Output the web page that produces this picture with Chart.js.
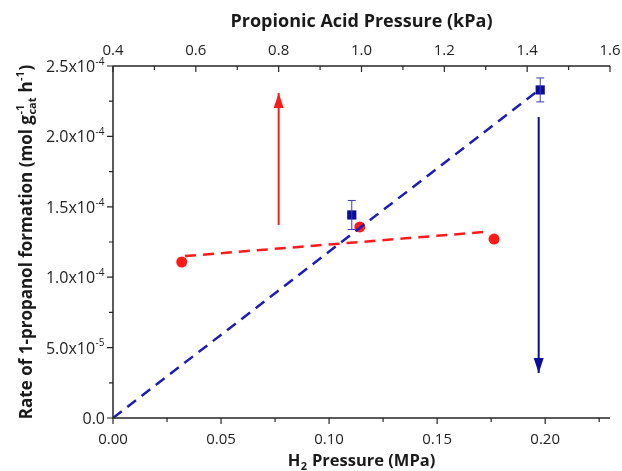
<!DOCTYPE html>
<html>
<head>
<meta charset="utf-8">
<script src="https://cdn.jsdelivr.net/npm/chart.js"></script>
<style>
html, body { margin: 0; padding: 0; background: #fff; }
</style>
</head>
<body>
<canvas id="myChart" width="622" height="471"></canvas>
<script>
// H2 series (bottom axis, MPa)
const h2Pressure = [0.1105, 0.1977];
const rateH2 = [1.442e-4, 2.33e-4];
const rateH2Err = [1.03e-5, 0.85e-5];
const h2FitX = [0, 0.196];
const h2FitY = [0, 2.316e-4];

// propionic acid series (top axis, kPa)
const acidPressure = [0.566, 0.996, 1.32];
const rateAcid = [1.108e-4, 1.357e-4, 1.271e-4];
const acidFitX = [0.574, 1.296];
const acidFitY = [1.15e-4, 1.321e-4];

// arrows
const redArrowX = [0.8, 0.8];
const redArrowY = [1.371e-4, 2.308e-4];
const blueArrowX = [0.197, 0.197];
const blueArrowY = [2.138e-4, 0.32e-4];

// ticks
const xTicks = [0, 0.05, 0.10, 0.15, 0.20];
const xTickLabels = ['0.00', '0.05', '0.10', '0.15', '0.20'];
const xMinor = [0.025, 0.075, 0.125, 0.175, 0.225];
const x2Ticks = [0.4, 0.6, 0.8, 1.0, 1.2, 1.4, 1.6];
const x2TickLabels = ['0.4', '0.6', '0.8', '1.0', '1.2', '1.4', '1.6'];
const x2Minor = [0.5, 0.7, 0.9, 1.1, 1.3, 1.5];
const yTicks = [0, 5e-5, 1e-4, 1.5e-4, 2e-4, 2.5e-4];
const yTickBase = ['0.0', '5.0x10', '1.0x10', '1.5x10', '2.0x10', '2.5x10'];
const yTickExp = ['', '-5', '-4', '-4', '-4', '-4'];
const yMinor = [2.5e-5, 7.5e-5, 1.25e-4, 1.75e-4, 2.25e-4];

const FONT = "'Open Sans', sans-serif";
const AXIS = '#262626';
const BLUE = '#0c0c9a';
const RED = '#ff1a1a';

function pts(xs, ys) {
    return xs.map((x, i) => ({ x: x, y: ys[i] }));
}

// pieces: k 'n' normal, 'sup', 'sub', 'ss' stacked sup (t) over sub (s)
function richWidth(ctx, parts, size, bold) {
    let w = 0;
    parts.forEach(p => {
        if (p.k === 'n') {
            ctx.font = (bold ? 'bold ' : '') + size + 'px ' + FONT;
            w += ctx.measureText(p.t).width;
        } else {
            ctx.font = (bold ? 'bold ' : '') + Math.round(size * 0.65) + 'px ' + FONT;
            if (p.k === 'ss') {
                w += Math.max(ctx.measureText(p.t).width, ctx.measureText(p.s).width) + 1;
            } else {
                w += ctx.measureText(p.t).width + 1;
            }
        }
    });
    return w;
}

function richDraw(ctx, parts, x, y, size, bold) {
    ctx.textBaseline = 'alphabetic';
    ctx.textAlign = 'left';
    parts.forEach(p => {
        if (p.k === 'n') {
            ctx.font = (bold ? 'bold ' : '') + size + 'px ' + FONT;
            ctx.fillText(p.t, x, y);
            x += ctx.measureText(p.t).width;
        } else {
            ctx.font = (bold ? 'bold ' : '') + Math.round(size * 0.65) + 'px ' + FONT;
            if (p.k === 'sup') {
                ctx.fillText(p.t, x + 0.5, y - size * 0.45);
                x += ctx.measureText(p.t).width + 1;
            } else if (p.k === 'sub') {
                ctx.fillText(p.t, x + 0.5, y + size * 0.25);
                x += ctx.measureText(p.t).width + 1;
            } else {
                ctx.fillText(p.t, x + 0.5, y - size * 0.45);
                ctx.fillText(p.s, x + 0.5, y + size * 0.25);
                x += Math.max(ctx.measureText(p.t).width, ctx.measureText(p.s).width) + 1;
            }
        }
    });
}

const decor = {
    id: 'decor',
    afterDatasetsDraw(chart) {
        const ctx = chart.ctx;
        const a = chart.chartArea;
        const sx = chart.scales.x, sx2 = chart.scales.x2, sy = chart.scales.y;
        ctx.save();

        // error bars
        ctx.strokeStyle = '#3a3ab8';
        ctx.lineWidth = 1;
        h2Pressure.forEach((v, i) => {
            const px = sx.getPixelForValue(v);
            const t = sy.getPixelForValue(rateH2[i] + rateH2Err[i]);
            const b = sy.getPixelForValue(rateH2[i] - rateH2Err[i]);
            ctx.beginPath();
            ctx.moveTo(px, t); ctx.lineTo(px, b);
            ctx.moveTo(px - 4, t); ctx.lineTo(px + 4, t);
            ctx.moveTo(px - 4, b); ctx.lineTo(px + 4, b);
            ctx.stroke();
        });

        // arrow heads
        function head(px, py, dir, color) {
            ctx.fillStyle = color;
            ctx.beginPath();
            ctx.moveTo(px, py);
            ctx.lineTo(px - 5, py - dir * 15);
            ctx.lineTo(px + 5, py - dir * 15);
            ctx.closePath();
            ctx.fill();
        }
        head(sx2.getPixelForValue(redArrowX[1]), sy.getPixelForValue(redArrowY[1]), -1, RED);
        head(sx.getPixelForValue(blueArrowX[1]), sy.getPixelForValue(blueArrowY[1]), 1, BLUE);

        // axes lines
        ctx.strokeStyle = AXIS;
        ctx.lineWidth = 1.5;
        ctx.beginPath();
        ctx.moveTo(a.left, a.top); ctx.lineTo(a.left, a.bottom); ctx.lineTo(a.right, a.bottom);
        ctx.moveTo(a.left, a.top); ctx.lineTo(a.right, a.top);
        ctx.stroke();

        ctx.lineWidth = 1.2;
        ctx.beginPath();
        xTicks.forEach(v => { const p = sx.getPixelForValue(v); ctx.moveTo(p, a.bottom); ctx.lineTo(p, a.bottom + 6); });
        xMinor.forEach(v => { const p = sx.getPixelForValue(v); ctx.moveTo(p, a.bottom); ctx.lineTo(p, a.bottom + 4); });
        x2Ticks.forEach(v => { const p = sx2.getPixelForValue(v); ctx.moveTo(p, a.top); ctx.lineTo(p, a.top + 6); });
        x2Minor.forEach(v => { const p = sx2.getPixelForValue(v); ctx.moveTo(p, a.top); ctx.lineTo(p, a.top + 4); });
        yTicks.forEach(v => { const p = sy.getPixelForValue(v); ctx.moveTo(a.left, p); ctx.lineTo(a.left - 6, p); });
        yMinor.forEach(v => { const p = sy.getPixelForValue(v); ctx.moveTo(a.left, p); ctx.lineTo(a.left - 4, p); });
        ctx.stroke();

        // tick labels
        ctx.fillStyle = '#222';
        ctx.font = '15px ' + FONT;
        ctx.textAlign = 'center';
        ctx.textBaseline = 'alphabetic';
        xTicks.forEach((v, i) => ctx.fillText(xTickLabels[i], sx.getPixelForValue(v), a.bottom + 26));
        x2Ticks.forEach((v, i) => ctx.fillText(x2TickLabels[i], sx2.getPixelForValue(v), a.top - 11));

        yTicks.forEach((v, i) => {
            const parts = [{ t: yTickBase[i], k: 'n' }];
            if (yTickExp[i]) parts.push({ t: yTickExp[i], k: 'sup' });
            const w = richWidth(ctx, parts, 16, false);
            richDraw(ctx, parts, a.left - 8 - w, sy.getPixelForValue(v) + 6, 16, false);
        });

        // titles
        ctx.fillStyle = '#1a1a1a';
        ctx.font = 'bold 18px ' + FONT;
        ctx.textAlign = 'center';
        ctx.textBaseline = 'alphabetic';
        ctx.fillText('Propionic Acid Pressure (kPa)', (a.left + a.right) / 2, 27);

        const xt = [{ t: 'H', k: 'n' }, { t: '2', k: 'sub' }, { t: ' Pressure (MPa)', k: 'n' }];
        const xw = richWidth(ctx, xt, 16.5, true);
        richDraw(ctx, xt, (a.left + a.right) / 2 - xw / 2, 466, 16.5, true);

        const yt = [
            { t: 'Rate of 1-propanol formation (mol g', k: 'n' },
            { t: '-1', s: 'cat', k: 'ss' },
            { t: ' h', k: 'n' },
            { t: '-1', k: 'sup' },
            { t: ')', k: 'n' }
        ];
        const yw = richWidth(ctx, yt, 17, true);
        ctx.translate(32, (a.top + a.bottom) / 2);
        ctx.rotate(-Math.PI / 2);
        richDraw(ctx, yt, -yw / 2, 0, 17, true);

        ctx.restore();
    }
};

const ctx = document.getElementById('myChart').getContext('2d');
const myChart = new Chart(ctx, {
    type: 'scatter',
    data: {
        datasets: [
            {
                label: 'H2 fit',
                data: pts(h2FitX, h2FitY),
                xAxisID: 'x',
                showLine: true,
                borderColor: '#1c1cb8',
                borderWidth: 2.5,
                borderDash: [11, 7],
                pointRadius: 0
            },
            {
                label: 'acid fit',
                data: pts(acidFitX, acidFitY),
                xAxisID: 'x2',
                showLine: true,
                borderColor: RED,
                borderWidth: 2.5,
                borderDash: [11, 7],
                pointRadius: 0
            },
            {
                label: 'H2 pressure',
                data: pts(h2Pressure, rateH2),
                xAxisID: 'x',
                pointStyle: 'rect',
                pointRadius: 6.5,
                backgroundColor: BLUE,
                borderColor: BLUE,
                borderWidth: 0
            },
            {
                label: 'acid pressure',
                data: pts(acidPressure, rateAcid),
                xAxisID: 'x2',
                pointStyle: 'circle',
                pointRadius: 5.5,
                backgroundColor: RED,
                borderColor: RED,
                borderWidth: 0
            },
            {
                label: 'red arrow',
                data: pts(redArrowX, redArrowY),
                xAxisID: 'x2',
                showLine: true,
                borderColor: RED,
                borderWidth: 2,
                pointRadius: 0
            },
            {
                label: 'blue arrow',
                data: pts(blueArrowX, blueArrowY),
                xAxisID: 'x',
                showLine: true,
                borderColor: BLUE,
                borderWidth: 2,
                pointRadius: 0
            }
        ]
    },
    options: {
        responsive: false,
        animation: false,
        layout: { padding: { left: 113, right: 12, top: 66, bottom: 53 } },
        plugins: { legend: { display: false }, tooltip: { enabled: false } },
        scales: {
            x: { type: 'linear', position: 'bottom', min: 0, max: 0.23, display: false },
            x2: { type: 'linear', position: 'top', min: 0.4, max: 1.6, display: false },
            y: { type: 'linear', min: 0, max: 2.5e-4, display: false }
        }
    },
    plugins: [decor]
});
</script>
</body>
</html>
